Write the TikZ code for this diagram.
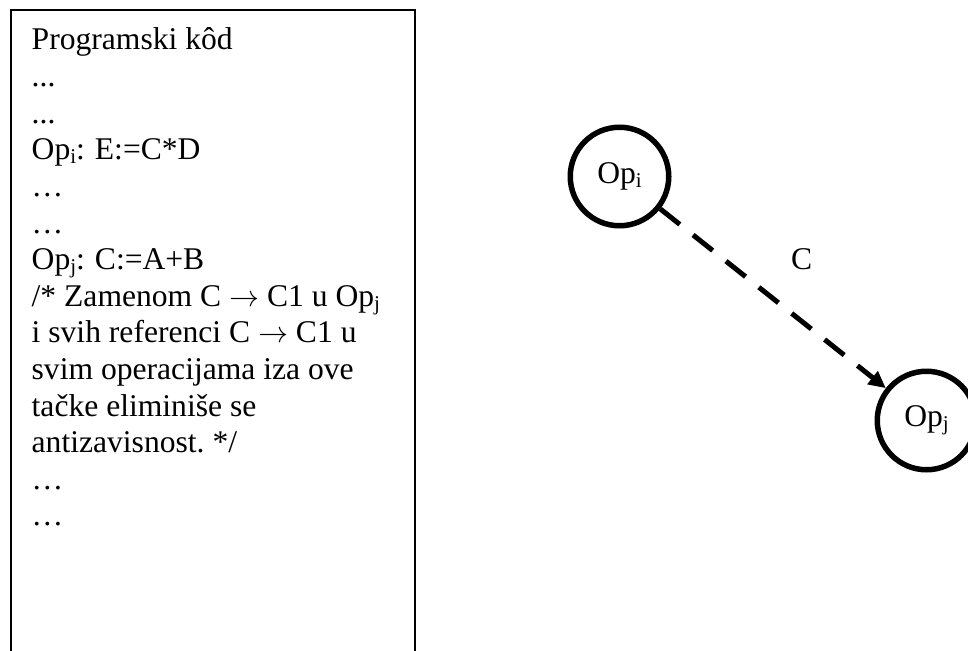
\documentclass[tikz,border=0pt]{standalone}
\usepackage{fontspec}
\usepackage{graphicx}
\setmainfont{Liberation Serif}
\usetikzlibrary{arrows.meta}
\newcommand\mysub[1]{\raisebox{-4pt}{\fontsize{21}{21}\selectfont #1}}
\newcommand\myarr{\resizebox{30pt}{!}{$\rightarrow$}}
\begin{document}
\frenchspacing
\begin{tikzpicture}[x=1pt,y=-1pt,
  codeline/.style={anchor=base west, inner sep=0pt, font=\fontsize{31.6}{36.6}\selectfont},
  opnode/.style={draw, circle, line width=5.5pt, minimum size=98.5pt, inner sep=0pt, font=\fontsize{31.6}{36.6}\selectfont},
  dep/.style={line width=5pt, dash pattern=on 25pt off 17pt, -{Triangle[length=17pt,width=16pt]}},
  frame/.style={line width=2pt},
  lbl/.style={inner sep=0pt, font=\fontsize{31.6}{36.6}\selectfont}]
\useasboundingbox (0,0) rectangle (968,650);
\clip (0,0) rectangle (968,650);
% code frame (open at the bottom)
\coordinate (bl) at (10.7,665);
\coordinate (tl) at (10.7,10);
\coordinate (tr) at (415,10);
\coordinate (br) at (415,665);
\draw[frame] (bl) -- (tl) -- (tr) -- (br);
% code lines
\node[codeline] (l1)  at (31.5,50.0)  {Programski kôd};
\node[codeline] (l2)  at (31.5,86.6)  {...};
\node[codeline] (l3)  at (31.5,123.2) {...};
\node[codeline] (l4)  at (31.5,159.8) {Op\mysub{i}:\hspace{10pt}E:=C*D};
\node[codeline] (l5)  at (31.5,196.4) {…};
\node[codeline] (l6)  at (31.5,233.0) {…};
\node[codeline] (l7)  at (31.5,269.6) {Op\mysub{j}:\hspace{10pt}C:=A+B};
\node[codeline] (l8)  at (31.5,306.2) {/* Zamenom C \myarr{} C1 u Op\mysub{j}};
\node[codeline] (l9)  at (31.5,342.8) {i svih referenci C \myarr{} C1 u};
\node[codeline] (l10) at (31.5,379.4) {svim operacijama iza ove};
\node[codeline] (l11) at (31.5,416.0) {tačke eliminiše se};
\node[codeline] (l12) at (31.5,452.6) {antizavisnost. */};
\node[codeline] (l13) at (31.5,489.2) {…};
\node[codeline] (l14) at (31.5,525.8) {…};
% dependency graph
\node[opnode] (opi) at (619.5,176.5) {\raisebox{-3pt}{Op\mysub{i}}};
\node[opnode] (opj) at (926.5,420.5) {Op\mysub{j}};
\draw[dep] (opi) -- (opj);
\node[lbl] (clbl) at (801.7,259.5) {C};
\end{tikzpicture}
\end{document}
